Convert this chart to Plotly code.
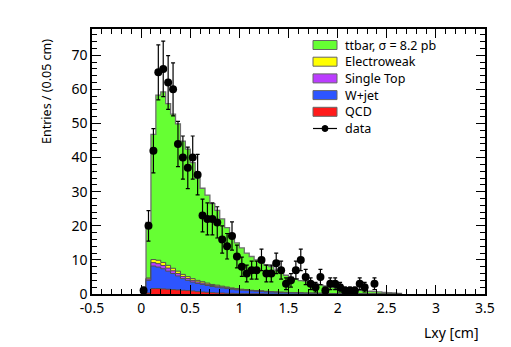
import numpy as np
import plotly.graph_objects as go

# ---------------- data ----------------
bin_width = 0.05
n_bins = 53
bin_lo = [round(i * bin_width, 2) for i in range(n_bins)]  # 0.00 ... 2.60

ttbar = [0, 16.3, 36.7, 48.4, 50.0, 47.4, 45.2, 43.2, 39.1, 37.4,
         34.0, 30.0, 27.4, 25.8, 23.7, 21.9, 19.7, 17.4, 15.7, 13.4,
         12.1, 10.7, 9.9, 9.0, 8.5, 7.7, 7.3, 6.4, 5.9, 5.0,
         4.5, 4.1, 3.6, 3.5, 3.0, 2.8, 2.5, 2.2, 1.9, 1.8,
         1.6, 1.4, 1.2, 1.1, 1.0, 0.9, 0.8, 0.7, 0.6, 0.5,
         0.4, 0.3, 0.2]
electroweak = [0, 0.3, 0.9, 1.0, 0.9, 0.8, 0.75, 0.7, 0.6, 0.55,
               0.5, 0.45, 0.4, 0.35, 0.3, 0.3, 0.25, 0.2, 0.2, 0.2,
               0.15, 0.15, 0.1, 0.1, 0.1, 0.1, 0.05, 0.05, 0.05, 0.05,
               0.05, 0.05, 0, 0, 0, 0, 0, 0, 0, 0,
               0, 0, 0, 0, 0, 0, 0, 0, 0, 0,
               0, 0, 0]
single_top = [0, 0.4, 1.0, 1.0, 0.95, 0.9, 0.8, 0.7, 0.65, 0.55,
              0.5, 0.45, 0.4, 0.35, 0.3, 0.3, 0.25, 0.25, 0.2, 0.2,
              0.15, 0.15, 0.1, 0.1, 0.1, 0.1, 0.1, 0.05, 0.05, 0.05,
              0.05, 0.05, 0.05, 0, 0, 0, 0, 0, 0, 0,
              0, 0, 0, 0, 0, 0, 0, 0, 0, 0,
              0, 0, 0]
wjet = [0, 3.7, 6.6, 6.3, 5.9, 5.3, 4.7, 4.1, 3.4, 3.0,
        2.6, 2.4, 2.2, 2.0, 1.8, 1.7, 1.5, 1.4, 1.2, 1.1,
        1.0, 0.9, 0.85, 0.75, 0.7, 0.6, 0.55, 0.5, 0.45, 0.4,
        0.35, 0.3, 0.3, 0.25, 0.25, 0.2, 0.2, 0.15, 0.15, 0.1,
        0.1, 0.1, 0.05, 0.05, 0.05, 0, 0, 0, 0, 0,
        0, 0, 0]
qcd = [0, 0.3, 1.6, 1.6, 1.5, 1.4, 1.3, 1.2, 1.1, 1.0,
       0.9, 0.7, 0.6, 0.5, 0.4, 0.3, 0.3, 0.2, 0.2, 0.1,
       0.1, 0.1, 0.05, 0.05, 0.05, 0, 0, 0, 0, 0,
       0, 0, 0, 0, 0, 0, 0, 0, 0, 0,
       0, 0, 0, 0, 0, 0, 0, 0, 0, 0,
       0, 0, 0]

data_x = [0.025, 0.075, 0.125, 0.175, 0.225, 0.275, 0.325, 0.375, 0.425, 0.475,
          0.525, 0.575, 0.625, 0.675, 0.725, 0.775, 0.825, 0.875, 0.925, 0.975,
          1.025, 1.075, 1.125, 1.175, 1.225, 1.275, 1.325, 1.375, 1.425, 1.475,
          1.525, 1.575, 1.625, 1.675, 1.725, 1.775, 1.825, 1.875, 1.925, 1.975,
          2.025, 2.075, 2.125, 2.175, 2.225, 2.275, 2.375]
data_y = [1, 20, 42, 65, 66, 62, 60, 44, 40, 37,
          40, 35, 23, 22, 22, 21, 16, 14, 17, 11,
          8, 6, 7, 7, 10, 6, 6, 9, 7, 3,
          4, 7, 10, 5, 3, 2, 5, 1, 3, 3,
          2, 1, 1, 1, 3, 2, 3]

x_tickvals = [-0.5, 0, 0.5, 1, 1.5, 2, 2.5, 3, 3.5]
x_ticktext = ["-0.5", "0", "0.5", "1", "1.5", "2", "2.5", "3", "3.5"]
y_tickvals = [0, 10, 20, 30, 40, 50, 60, 70]

names = ["ttbar, σ = 8.2 pb", "Electroweak", "Single Top", "W+jet", "QCD"]
colors = ["#66ff33", "#ffff00", "#bb3dff", "#2d55ff", "#ff1a1a"]

FONT = "Noto Sans"

# page offset of the plotly div (default body margin of the html page)
OFF = 8
W, H = 511, 347

# ---------------- figure ----------------
fig = go.Figure()

# cumulative stack (bottom -> top): QCD, W+jet, Single Top, Electroweak, ttbar
components_bottom_up = [qcd, wjet, single_top, electroweak, ttbar]
cum = np.cumsum(np.array(components_bottom_up, dtype=float), axis=0)
layer_colors = colors[::-1]  # QCD, W, ST, EW, ttbar

edges = bin_lo + [round(bin_lo[-1] + bin_width, 2)]
for idx in range(len(components_bottom_up) - 1, -1, -1):
    vals = list(cum[idx])
    xs = [0.0] + edges
    ys = [0.0] + vals + [0.0]
    fig.add_trace(go.Scatter(
        x=xs, y=ys, mode="lines", line_shape="hv",
        fill="tozeroy", fillcolor=layer_colors[idx],
        line=dict(color="#6e6e6e" if idx == 4 else "#505050", width=1.3 if idx == 4 else 1),
        hoverinfo="skip"))

fig.add_trace(go.Scatter(
    x=data_x, y=data_y, mode="markers",
    marker=dict(color="black", size=8),
    error_y=dict(type="data", array=list(np.sqrt(np.array(data_y, dtype=float))),
                 color="black", thickness=1.2, width=2),
    hoverinfo="skip"))

# ---------------- legend (drawn manually, ROOT style) ----------------
# plot frame in page pixels
L, R, T, B = 92, 485, 29, 294


def px(xp):
    return (xp - L) / (R - L)


def py(yp):
    return (B - yp) / (B - T)


row_y = [45, 61.7, 78.4, 95.1, 111.8, 128.5]
shapes = []
annotations = []
for i, (nm, col) in enumerate(zip(names, colors)):
    shapes.append(dict(type="rect", xref="paper", yref="paper",
                       x0=px(313), x1=px(337), y0=py(row_y[i] - 4.5), y1=py(row_y[i] + 4.5),
                       fillcolor=col, line=dict(color="#666666", width=1)))
    annotations.append(dict(xref="paper", yref="paper", x=px(343), y=py(row_y[i]),
                            text=nm, showarrow=False, xanchor="left", yanchor="middle",
                            font=dict(family=FONT, size=12.5, color="black")))
shapes.append(dict(type="line", xref="paper", yref="paper",
                   x0=px(313), x1=px(337), y0=py(row_y[5]), y1=py(row_y[5]),
                   line=dict(color="black", width=1.2)))
shapes.append(dict(type="circle", xref="paper", yref="paper",
                   x0=px(322), x1=px(328), y0=py(row_y[5] + 3), y1=py(row_y[5] - 3),
                   fillcolor="black", line=dict(color="black", width=1)))
annotations.append(dict(xref="paper", yref="paper", x=px(343), y=py(row_y[5]),
                        text="data", showarrow=False, xanchor="left", yanchor="middle",
                        font=dict(family=FONT, size=12.5, color="black")))

# axis titles (ROOT: right / top aligned)
annotations.append(dict(xref="paper", yref="paper", x=px(481), y=py(332),
                        text="Lxy [cm]", showarrow=False, xanchor="right", yanchor="middle",
                        font=dict(family=FONT, size=14, color="black")))
annotations.append(dict(xref="paper", yref="paper", x=px(47), y=py(92),
                        text="Entries / (0.05 cm)", showarrow=False, textangle=-90,
                        xanchor="center", yanchor="middle",
                        font=dict(family=FONT, size=12.5, color="black")))

fig.update_layout(
    width=W - OFF, height=H - OFF,
    margin=dict(l=L - OFF, r=W - R, t=T - OFF, b=H - B),
    paper_bgcolor="white", plot_bgcolor="white",
    showlegend=False,
    shapes=shapes, annotations=annotations,
    font=dict(family=FONT, size=14, color="black"),
)
fig.update_xaxes(
    range=[-0.5, 3.5], tickmode="array", tickvals=x_tickvals, ticktext=x_ticktext,
    ticks="inside", ticklen=9, tickwidth=1, tickcolor="black",
    minor=dict(ticks="inside", ticklen=5, dtick=0.1, tick0=0, tickcolor="black", showgrid=False),
    showline=True, linecolor="black", linewidth=1.5, mirror="ticks",
    showgrid=False, zeroline=False,
    tickfont=dict(family=FONT, size=14, color="black"),
)
fig.update_yaxes(
    range=[0, 77.7], tickmode="array", tickvals=y_tickvals,
    ticks="inside", ticklen=9, tickwidth=1, tickcolor="black",
    minor=dict(ticks="inside", ticklen=5, dtick=2, tick0=0, tickcolor="black", showgrid=False),
    showline=True, linecolor="black", linewidth=1.5, mirror="ticks",
    showgrid=False, zeroline=False,
    tickfont=dict(family=FONT, size=14, color="black"),
)

fig.write_html("out.html")
